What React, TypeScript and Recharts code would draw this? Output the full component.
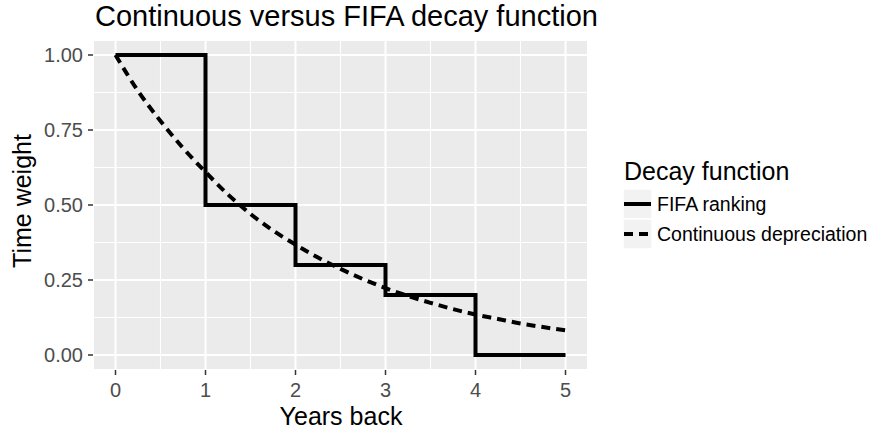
import React from "react";
import { LineChart, Line, XAxis, YAxis, CartesianGrid, ReferenceLine } from "recharts";

// FIFA ranking: step weights by year
const fifaYears = [0, 1, 2, 3, 4, 5];
const fifaWeights = [1, 0.5, 0.3, 0.2, 0, 0];

// Continuous depreciation
const contYears = [0, 0.25, 0.5, 0.75, 1, 1.25, 1.5, 1.75, 2, 2.25, 2.5, 2.75, 3, 3.25, 3.5, 3.75, 4, 4.25, 4.5, 4.75, 5];
const contWeights = [1, 0.88, 0.78, 0.69, 0.61, 0.535, 0.47, 0.415, 0.368, 0.325, 0.287, 0.253, 0.223, 0.197, 0.174, 0.153, 0.135, 0.12, 0.105, 0.093, 0.082];

const xTicks = [0, 1, 2, 3, 4, 5];
const yTicks = [0, 0.25, 0.5, 0.75, 1];
const xMinor = [0.5, 1.5, 2.5, 3.5, 4.5];
const yMinor = [0.125, 0.375, 0.625, 0.875];

const seriesNames = ["FIFA ranking", "Continuous depreciation"];
const seriesDash = ["", "9 6"];

const fifaData = fifaYears.map((x, i) => ({ x, y: fifaWeights[i] }));
const contData = contYears.map((x, i) => ({ x, y: contWeights[i] }));

const FONT = '"Liberation Sans", Arial, sans-serif';

const App = () => {
  return (
    <div style={{ position: "absolute", left: 0, top: 0, width: 871, height: 432, background: "#fff", fontFamily: FONT }}>
      <LineChart width={871} height={432} margin={{ top: 40, right: 283, bottom: 32, left: 0 }}>
        <CartesianGrid fill="#EBEBEB" fillOpacity={1} stroke="#FFFFFF" strokeWidth={2} />
        {xMinor.map((v) => (
          <ReferenceLine key={"x" + v} x={v} stroke="#FFFFFF" strokeWidth={1.1} />
        ))}
        {yMinor.map((v) => (
          <ReferenceLine key={"y" + v} y={v} stroke="#FFFFFF" strokeWidth={1.1} />
        ))}
        <XAxis
          type="number"
          dataKey="x"
          domain={[-0.25, 5.25]}
          ticks={xTicks}
          allowDataOverflow
          axisLine={false}
          tickSize={5}
          tickMargin={8}
          height={30}
          tickLine={{ stroke: "#333333", strokeWidth: 1.5 }}
          tick={{ fill: "#4D4D4D", fontSize: 20, fontFamily: FONT }}
        />
        <YAxis
          type="number"
          domain={[-0.05, 1.05]}
          ticks={yTicks}
          allowDataOverflow
          axisLine={false}
          width={93}
          tickSize={5}
          tickMargin={5}
          tickLine={{ stroke: "#333333", strokeWidth: 1.5 }}
          tick={{ fill: "#4D4D4D", fontSize: 20, fontFamily: FONT }}
          tickFormatter={(v: number) => v.toFixed(2)}
        />
        <Line
          data={fifaData}
          dataKey="y"
          name={seriesNames[0]}
          type="stepAfter"
          stroke="#000000"
          strokeWidth={4}
          dot={false}
          isAnimationActive={false}
        />
        <Line
          data={contData}
          dataKey="y"
          name={seriesNames[1]}
          type="monotone"
          stroke="#000000"
          strokeWidth={4}
          strokeDasharray={seriesDash[1]}
          dot={false}
          isAnimationActive={false}
        />
      </LineChart>
      <svg width={871} height={432} style={{ position: "absolute", left: 0, top: 0, pointerEvents: "none" }} fontFamily={FONT}>
        <text x={95} y={26} fontSize={29} fill="#000">Continuous versus FIFA decay function</text>
        <text x={341} y={425} fontSize={25} fill="#000" textAnchor="middle">Years back</text>
        <text x={31} y={201} fontSize={25} fill="#000" textAnchor="middle" transform="rotate(-90 31 201)">Time weight</text>
        <text x={624} y={180} fontSize={25} fill="#000">Decay function</text>
        {seriesNames.map((name, i) => {
          const top = 189 + i * 30;
          return (
            <g key={name}>
              <rect x={623} y={top} width={29} height={30} fill="#F2F2F2" stroke="#FFFFFF" strokeWidth={1.5} />
              <line x1={624} x2={651} y1={top + 15} y2={top + 15} stroke="#000" strokeWidth={4} strokeDasharray={seriesDash[i] || undefined} />
              <text x={657} y={top + 15} dy="0.35em" fontSize={19.5} fill="#000">{name}</text>
            </g>
          );
        })}
      </svg>
    </div>
  );
};

export default App;
